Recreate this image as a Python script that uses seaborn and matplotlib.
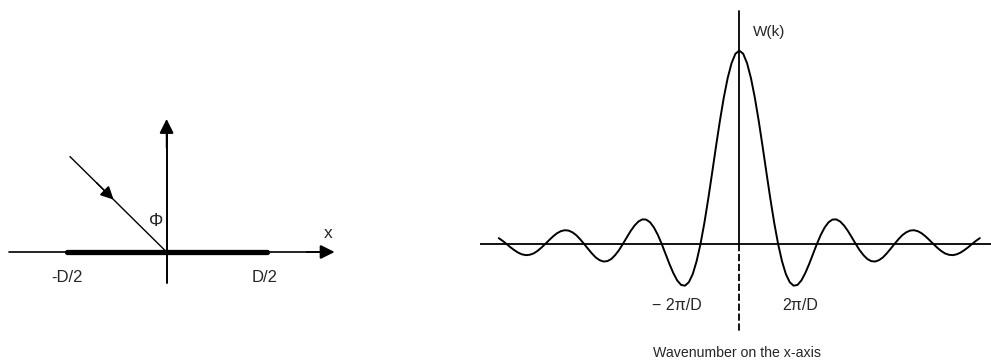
import numpy as np
import pandas as pd
import matplotlib
matplotlib.use("Agg")
import matplotlib.pyplot as plt
from matplotlib.patches import FancyArrowPatch
import seaborn as sns

sns.set_theme(style="white")
plt.rcParams["font.family"] = ["Liberation Sans", "DejaVu Sans"]

# ---- aperture diagram (left) ----
D = 1.0                      # aperture width
aperture_labels = ["-D/2", "D/2"]
angle_label = "\u03a6"
axis_label = "x"

# ---- aperture response W(k) (right) ----
# wavenumber in units of 2*pi/D, sampled every 0.1
k_units = np.linspace(-6.2, 6.2, 125)
w_values = [
    0.030, 0.016, 0.000,
    -0.017, -0.032, -0.045, -0.054, -0.058, -0.056, -0.049, -0.036, -0.019, 0.000,
    0.020, 0.039, 0.055, 0.066, 0.071, 0.069, 0.060, 0.045, 0.024, 0.000,
    -0.025, -0.049, -0.070, -0.084, -0.091, -0.089, -0.078, -0.058, -0.032, 0.000,
    0.034, 0.067, 0.095, 0.116, 0.127, 0.126, 0.112, 0.085, 0.047, 0.000,
    -0.052, -0.104, -0.151, -0.189, -0.212, -0.216, -0.198, -0.156, -0.089, 0.000,
    0.109, 0.234, 0.368, 0.505, 0.637, 0.757, 0.858, 0.935, 0.984,
    1.000,
    0.984, 0.935, 0.858, 0.757, 0.637, 0.505, 0.368, 0.234, 0.109,
    0.000, -0.089, -0.156, -0.198, -0.216, -0.212, -0.189, -0.151, -0.104, -0.052,
    0.000, 0.047, 0.085, 0.112, 0.126, 0.127, 0.116, 0.095, 0.067, 0.034,
    0.000, -0.032, -0.058, -0.078, -0.089, -0.091, -0.084, -0.070, -0.049, -0.025,
    0.000, 0.024, 0.045, 0.060, 0.069, 0.071, 0.066, 0.055, 0.039, 0.020,
    0.000, -0.019, -0.036, -0.049, -0.056, -0.058, -0.054, -0.045, -0.032, -0.017,
    0.000, 0.016, 0.030,
]
tick_labels = ["\u2212 2\u03c0/D", "2\u03c0/D"]
y_label = "W(k)"
x_title = "Wavenumber on the x-axis"

df = pd.DataFrame({"k": k_units, "W": w_values})

W, H = 991, 363
fig = plt.figure(figsize=(W / 100, H / 100), dpi=100)
fig.patch.set_facecolor("white")

# ----------------------------- left diagram -----------------------------
axL = fig.add_axes([0, 0, 350 / W, 1])
axL.set_xlim(-0.833, 0.917)
axL.set_ylim(-0.555, 1.26)
axL.axis("off")


def arrow_head(ax, start, end, lw=1.2, scale=22):
    """Solid triangular head pointing from start towards end."""
    arr = FancyArrowPatch(start, end, arrowstyle="-|>", mutation_scale=scale,
                          lw=lw, ec="black", fc="black", shrinkA=0, shrinkB=0,
                          joinstyle="miter", zorder=4)
    ax.add_patch(arr)


# horizontal axis with arrow
axL.plot([-0.79, 0.80], [0, 0], color="black", lw=1.2)
arrow_head(axL, (0.70, 0), (0.84, 0))
# vertical axis with arrow
axL.plot([0, 0], [-0.155, 0.62], color="black", lw=1.4)
arrow_head(axL, (0, 0.52), (0, 0.665))
# aperture
axL.plot([-D / 2, D / 2], [0, 0], color="black", lw=3.8,
         solid_capstyle="round", zorder=3)
# incident ray
ray_start = (-0.483, 0.477)
axL.plot([ray_start[0], 0], [ray_start[1], 0], color="black", lw=1.0)
arrow_head(axL, (-0.35, 0.346), (-0.265, 0.262), lw=1.0, scale=20)

axL.text(-0.05, 0.15, angle_label, fontsize=13, ha="center", va="center")
axL.text(0.81, 0.095, axis_label, fontsize=12.5, ha="center", va="center")
axL.text(-D / 2, -0.13, aperture_labels[0], fontsize=12, ha="center", va="center")
axL.text(0.49, -0.13, aperture_labels[1], fontsize=12, ha="center", va="center")

# ----------------------------- right plot -----------------------------
axR = fig.add_axes([480 / W, 0, 511 / W, 1])
axR.set_xlim(-6.683, 6.487)
axR.set_ylim(-0.616, 1.262)
axR.axis("off")

sns.lineplot(data=df, x="k", y="W", ax=axR, color="black", lw=1.4,
             estimator=None, legend=False)
axR.axhline(0, color="black", lw=1.3)
axR.plot([0, 0], [0, 1.207], color="black", lw=1.3)
axR.plot([0, 0], [0, -0.46], color="black", lw=1.3, ls=(0, (4, 1.5)))

axR.text(0.35, 1.097, y_label, fontsize=11, ha="left", va="center")
axR.text(-1.6, -0.316, tick_labels[0], fontsize=11.5, ha="center", va="center")
axR.text(1.56, -0.316, tick_labels[1], fontsize=11.5, ha="center", va="center")
axR.text(-0.06, -0.564, x_title, fontsize=10.2, ha="center", va="center")

fig.savefig("out.png", dpi=100, facecolor="white")
